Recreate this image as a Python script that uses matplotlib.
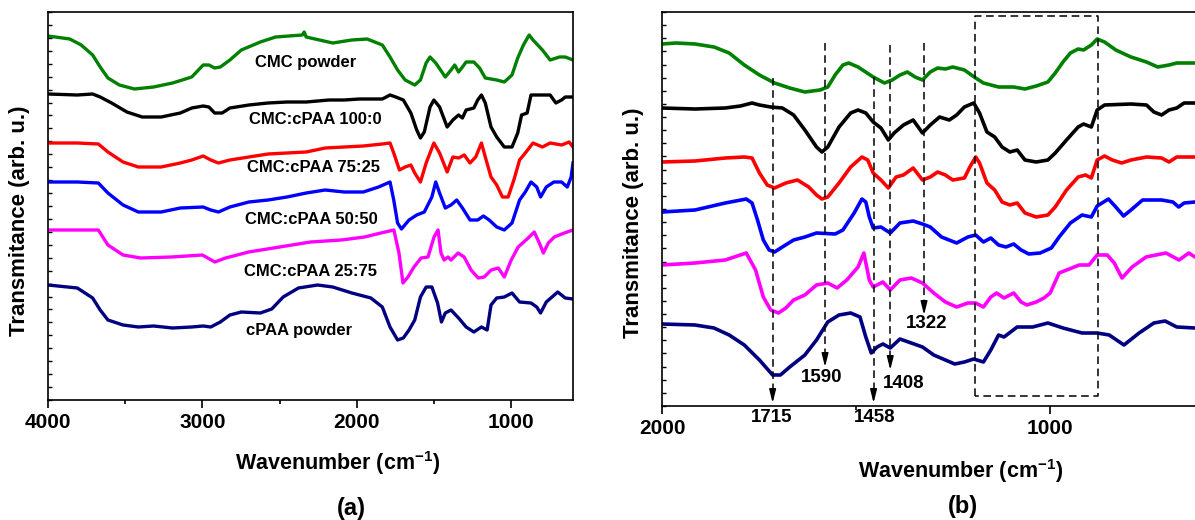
import matplotlib
matplotlib.use("Agg")
import matplotlib.pyplot as plt
from matplotlib.ticker import MultipleLocator, FixedLocator, NullFormatter

plt.rcParams['font.family'] = ['Liberation Sans', 'DejaVu Sans']
plt.rcParams['font.weight'] = 'bold'
plt.rcParams['mathtext.fontset'] = 'custom'
plt.rcParams['mathtext.rm'] = 'Liberation Sans:bold'
plt.rcParams['mathtext.bf'] = 'Liberation Sans:bold'
plt.rcParams['mathtext.default'] = 'bf'

# ---------- panel (a): full range, offset spectra ----------
a_cmc_w = [4000,3859,3785,3711,3662,3612,3538,3440,3316,3193,3069,2995,2958,2921,2884,2822,2748,2625,2526,2353,
           2341,2328,2156,2032,1933,1835,1785,1736,1687,1625,1588,1551,1526,1489,1427,1390,1366,1341,1316,1292,
           1242,1205,1168,1094,1045,995,958,921,884,859,798,748,687,650,600]
a_cmc_t = [364,361,355,345,333,322,315,311,313,317,323,335,335,332,333,340,350,358,363,365,
           368,363,357,360,361,355,343,330,320,315,320,337,343,337,323,330,335,328,333,338,
           338,332,322,320,318,325,342,355,365,360,350,340,343,343,340]

a_100_w = [4000,3810,3711,3662,3588,3489,3390,3267,3143,3069,2995,2958,2921,2872,2822,2699,2575,2452,2328,2180,
           2082,1983,1835,1785,1748,1699,1650,1612,1588,1563,1526,1501,1464,1415,1378,1341,1316,1292,1242,1217,
           1193,1168,1131,1094,1045,995,958,933,897,872,748,711,674,650,600]
a_100_t = [306,305,306,303,297,288,283,283,287,292,294,293,287,287,292,295,297,298,298,300,
           300,301,301,305,303,300,287,270,262,268,293,300,293,273,280,285,282,290,292,300,
           305,297,273,263,253,253,267,285,287,305,305,297,300,303,303]

a_75_w = [4000,3810,3674,3612,3514,3415,3267,3143,3069,2995,2946,2896,2822,2699,2575,2452,2328,2205,2082,1958,
          1835,1785,1761,1724,1687,1650,1625,1588,1551,1501,1464,1415,1378,1341,1304,1267,1230,1193,1168,1131,
          1094,1057,1020,983,946,909,859,798,748,674,625,600]
a_75_t = [257,257,256,248,238,233,233,237,240,244,240,237,240,243,246,247,248,252,253,254,
          256,257,247,230,233,235,227,218,237,257,247,228,243,242,245,237,243,257,243,223,
          215,203,203,220,240,247,257,253,257,255,258,253]

a_50_w = [4000,3810,3674,3612,3514,3415,3267,3143,2995,2946,2896,2822,2699,2575,2452,2328,2205,2082,1958,1859,
          1785,1761,1736,1711,1662,1612,1563,1514,1489,1464,1427,1390,1353,1316,1267,1217,1180,1143,1094,1045,
          995,946,909,872,835,810,773,724,674,637,612,600]
a_50_t = [218,218,217,207,195,188,188,192,193,190,188,193,198,200,203,207,210,208,208,213,
          218,200,177,171,180,185,188,203,218,207,192,195,200,192,180,180,184,180,173,170,
          177,200,208,218,213,203,213,218,218,213,223,237]

a_25_w = [4000,3800,3674,3612,3514,3400,3200,3000,2920,2850,2700,2500,2300,2100,1950,1844,1760,1727,1701,1669,
          1630,1584,1539,1500,1474,1455,1435,1409,1390,1344,1305,1260,1214,1175,1130,1084,1045,1000,955,890,
          851,818,792,760,721,656,600]
a_25_t = [170,170,170,155,145,142,143,145,138,142,148,153,158,160,163,167,170,147,117,123,
          133,142,143,163,170,147,140,143,140,147,143,130,122,123,130,132,123,140,153,162,
          168,157,147,157,163,167,170]

a_cpaa_w = [4000,3810,3711,3662,3612,3514,3415,3316,3193,3069,2995,2946,2884,2822,2748,2625,2551,2477,2378,2254,
            2156,2032,1909,1835,1785,1736,1699,1662,1625,1588,1551,1514,1477,1452,1427,1390,1341,1292,1242,1193,
            1156,1131,1094,1045,995,946,872,835,810,773,699,650,600]
a_cpaa_t = [115,112,102,90,80,75,73,74,72,73,74,73,78,85,88,87,91,103,112,115,
            113,107,102,93,73,60,62,70,80,103,113,113,97,78,87,90,82,73,68,73,
            70,95,102,103,107,98,97,93,87,98,108,102,101]

# ---------- panel (b): 2000-600 zoom ----------
b_cmc_w = [2000,1964,1915,1866,1827,1788,1749,1710,1671,1632,1593,1573,1554,1534,1519,1495,1456,1427,1407,1387,
           1368,1348,1329,1309,1290,1270,1251,1221,1192,1172,1133,1094,1065,1036,1006,987,967,948,928,914,
           894,879,860,831,792,752,723,694,674,627]
b_cmc_t = [362,363,362,359,353,341,331,323,318,314,316,319,331,341,343,339,329,323,326,331,
           334,329,326,334,338,337,339,336,328,323,319,319,317,320,324,333,344,353,357,356,
           361,367,364,356,349,344,339,341,343,343]

b_100_w = [2000,1915,1837,1798,1768,1749,1720,1690,1661,1632,1602,1588,1573,1544,1514,1495,1475,1456,1436,1417,
           1402,1378,1353,1329,1309,1285,1260,1241,1221,1197,1182,1163,1143,1124,1104,1085,1065,1036,1006,987,
           958,928,914,894,879,860,792,752,733,713,694,674,655,627]
b_100_t = [298,297,298,300,303,301,299,298,291,276,259,254,259,279,293,296,293,284,278,266,
           273,281,286,273,281,289,286,291,299,303,293,274,269,259,254,256,246,244,246,253,
           266,279,282,279,296,301,302,301,294,291,296,298,303,303]

b_75_w = [2000,1915,1837,1788,1768,1749,1729,1710,1681,1651,1622,1602,1588,1573,1544,1514,1485,1470,1456,1436,
          1417,1397,1378,1353,1329,1309,1290,1270,1251,1221,1207,1192,1182,1163,1143,1124,1104,1085,1065,1036,
          1006,987,958,928,909,894,879,860,840,816,792,752,713,694,674,627]
b_75_t = [244,245,248,249,248,233,221,218,223,226,219,211,207,209,223,239,249,246,233,226,
          218,229,231,238,226,229,234,231,226,228,239,249,243,223,216,204,201,203,193,189,
          191,199,216,229,231,228,246,250,246,243,246,249,248,244,249,249]

b_50_w = [2000,1915,1837,1783,1768,1754,1739,1724,1710,1690,1661,1632,1602,1554,1534,1505,1485,1475,1466,1456,
          1436,1412,1387,1353,1329,1309,1280,1241,1212,1192,1172,1153,1133,1114,1094,1075,1055,1026,997,977,
          948,918,894,879,850,831,811,792,762,713,684,669,655,627]
b_50_t = [194,196,203,207,203,186,166,156,154,159,166,169,173,172,176,193,207,204,189,178,
          179,173,183,185,182,179,169,163,169,171,164,168,161,159,162,156,152,153,158,169,
          183,191,189,200,207,199,190,196,206,206,204,199,203,204]

b_25_w = [2000,1915,1837,1783,1759,1739,1720,1700,1681,1661,1632,1602,1573,1549,1524,1495,1480,1466,1456,1431,
          1412,1387,1358,1329,1300,1270,1241,1212,1192,1172,1153,1138,1119,1094,1075,1060,1036,1016,1000,977,
          925,900,879,853,835,815,789,753,702,668,643,627]
b_25_t = [141,143,146,153,136,109,96,93,98,106,111,121,123,118,126,139,153,126,119,124,
          116,126,128,123,113,104,99,103,103,99,109,113,108,113,104,101,104,108,113,133,
          141,141,151,151,143,128,139,149,153,146,153,149]

b_cpaa_w = [2000,1915,1866,1827,1788,1749,1715,1695,1671,1632,1602,1573,1544,1514,1490,1475,1461,1446,1431,1412,
            1387,1358,1329,1300,1270,1246,1221,1197,1172,1153,1133,1119,1085,1045,1006,967,918,879,848,810,
            771,733,704,674,627]
b_cpaa_t = [82,81,78,71,61,46,31,31,39,51,66,84,91,93,89,69,53,59,62,58,
            67,63,59,51,46,42,44,47,44,56,71,69,79,79,83,78,73,73,71,61,
            73,83,85,79,78]

sample_labels = ["CMC powder", "CMC:cPAA 100:0", "CMC:cPAA 75:25",
                 "CMC:cPAA 50:50", "CMC:cPAA 25:75", "cPAA powder"]
label_w = [2331, 2266, 2279, 2292, 2299, 2377]
label_t = [338, 280, 232, 180, 128, 70]
colors = ["#008000", "#000000", "#ff0000", "#0000ff", "#ff00ff", "#000080"]

# band markers in (b): position, top of dashed line, arrow tip, label position
band_text = ["1715", "1590", "1458", "1408", "1322"]
band_w = [1715, 1580, 1455, 1412, 1325]
band_top = [328, 363, 329, 361, 363]
band_tip = [3, 39, 3, 36, 91]
band_lab_w = [1717, 1589, 1452, 1378, 1319]
band_lab_t = [-12, 28, -12, 22, 82]
box_w = [1194, 877]
box_t = [10, 390]

a_series = [(a_cmc_w, a_cmc_t), (a_100_w, a_100_t), (a_75_w, a_75_t),
            (a_50_w, a_50_t), (a_25_w, a_25_t), (a_cpaa_w, a_cpaa_t)]
b_series = [(b_cmc_w, b_cmc_t), (b_100_w, b_100_t), (b_75_w, b_75_t),
            (b_50_w, b_50_t), (b_25_w, b_25_t), (b_cpaa_w, b_cpaa_t)]

fig = plt.figure(figsize=(11.95, 5.2), dpi=100)
ax1 = fig.add_axes([48/1195, 1-400/520, 525/1195, 388/520])
ax2 = fig.add_axes([662/1195, 1-406/520, 1-662/1195, 394/520])

for (w, t), c in zip(a_series, colors):
    ax1.plot(w, t, color=c, lw=2.4)
for (w, t), c in zip(b_series, colors):
    ax2.plot(w, t, color=c, lw=2.6)

for s, w, t in zip(sample_labels, label_w, label_t):
    ax1.text(w, t, s, fontsize=12, fontweight='bold', ha='center', va='center')

ax1.set_xlim(4000, 600)
ax1.set_ylim(0, 388)
ax2.set_xlim(2000, 627)
ax2.set_ylim(0, 394)

ax1.xaxis.set_major_locator(FixedLocator([4000, 3000, 2000, 1000]))
ax1.xaxis.set_minor_locator(FixedLocator([3500, 2500, 1500]))
ax2.xaxis.set_major_locator(FixedLocator([2000, 1000]))
ax2.xaxis.set_minor_locator(FixedLocator([1500]))

for ax, ylim in ((ax1, 388), (ax2, 394)):
    ax.yaxis.set_major_locator(MultipleLocator(ylim / 30))
    ax.yaxis.set_major_formatter(NullFormatter())
    ax.tick_params(axis='x', which='major', direction='out', length=6, width=1.2,
                   labelsize=15, pad=3)
    ax.tick_params(axis='x', which='minor', direction='out', length=3, width=1.2)
    ax.tick_params(axis='y', direction='in', length=3, width=1)
    for lab in ax.get_xticklabels():
        lab.set_fontweight('bold')
    for sp in ax.spines.values():
        sp.set_linewidth(1.2)
ax2.spines['right'].set_visible(False)

# dashed guide lines with arrows
dash = (0, (5, 3))
for txt, w, top, tip, lw_, lt in zip(band_text, band_w, band_top, band_tip, band_lab_w, band_lab_t):
    ax2.plot([w, w], [top, tip + 6], color='k', lw=1.1, ls=dash)
    ax2.annotate('', xy=(w, tip), xytext=(w, tip + 12),
                 arrowprops=dict(arrowstyle='-|>,head_width=0.2,head_length=0.8',
                                 color='k', lw=1.1, shrinkA=0, shrinkB=0))
    ax2.text(lw_, lt, txt, fontsize=13.5, fontweight='bold', ha='center', va='center',
             clip_on=False)

ax2.plot([box_w[0], box_w[0], box_w[1], box_w[1], box_w[0]],
         [box_t[0], box_t[1], box_t[1], box_t[0], box_t[0]],
         color='k', lw=1.1, ls=dash)

fig.text(20/1195, 1-221/520, "Transmitance (arb. u.)", rotation=90, fontsize=16,
         fontweight='bold', ha='center', va='center')
fig.text(634/1195, 1-223/520, "Transmitance (arb. u.)", rotation=90, fontsize=16,
         fontweight='bold', ha='center', va='center')
fig.text(338/1195, 1-463/520, "Wavenumber (cm$^{-1}$)", fontsize=15.5,
         fontweight='bold', ha='center', va='center')
fig.text(961/1195, 1-471/520, "Wavenumber (cm$^{-1}$)", fontsize=15.5,
         fontweight='bold', ha='center', va='center')
fig.text(351/1195, 1-508/520, "(a)", fontsize=17, fontweight='bold', ha='center', va='center')
fig.text(963/1195, 1-507/520, "(b)", fontsize=17, fontweight='bold', ha='center', va='center')

fig.savefig("out.png", dpi=100)
